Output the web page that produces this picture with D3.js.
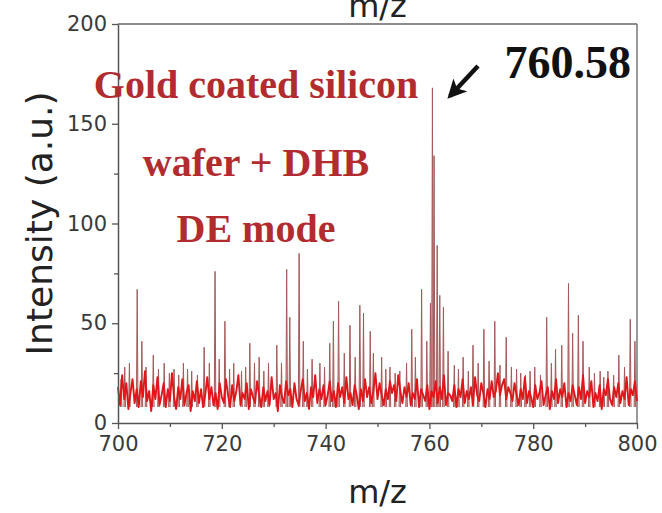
<!DOCTYPE html>
<html>
<head>
<meta charset="utf-8">
<script src="https://cdn.jsdelivr.net/npm/d3@7/dist/d3.min.js"></script>
<style>
  html, body { margin: 0; padding: 0; background: #fff; }
  svg { display: block; }
</style>
</head>
<body>
<svg id="chart" width="662" height="513"></svg>
<script>
// m/z axis ticks and intensity ticks
const xMajorTicks = [700, 720, 740, 760, 780, 800];
const xMinorTicks = [710, 730, 750, 770, 790];
const yMajorTicks = [0, 50, 100, 150, 200];
const yMinorTicks = [25, 75, 125, 175];

// baseline noise of the spectrum, sampled every 0.4 m/z from 700
const noiseStart = 700;
const noiseStep = 0.4;
const noiseIntensity = [
  18, 9, 24, 12, 20, 7, 15, 22, 10, 17,
  8, 21, 13, 26, 11, 16, 6, 19, 12, 23,
  9, 14, 20, 8, 17, 11, 25, 13, 7, 18,
  12, 22, 9, 15, 19, 6, 16, 11, 21, 10,
  17, 8, 14, 23, 12, 18, 9, 15, 7, 20,
  13, 10, 22, 14, 8, 19, 11, 16, 24, 9,
  15, 12, 20, 7, 17, 13, 10, 21, 14, 8,
  18, 11, 16, 9, 23, 12, 15, 6, 19, 13,
  10, 21, 14, 17, 8, 20, 12, 9, 16, 22,
  11, 15, 7, 18, 13, 24, 10, 17, 12, 19,
  9, 14, 21, 11, 16, 8, 20, 13, 18, 10,
  23, 12, 15, 9, 19, 14, 7, 17, 11, 22,
  13, 18, 10, 16, 25, 12, 20, 14, 9, 17,
  12, 21, 15, 19, 11, 24, 16, 10, 18, 13,
  20, 9, 15, 12, 22, 8, 17, 14, 11, 19,
  7, 16, 13, 21, 10, 18, 12, 24, 9, 15,
  14, 11, 19, 8, 17, 13, 22, 10, 16, 12,
  18, 9, 23, 14, 11, 20, 15, 8, 17, 12,
  21, 13, 16, 25, 14, 19, 22, 12, 18, 15,
  11, 20, 14, 9, 17, 12, 23, 10, 16, 13,
  8, 19, 12, 15, 21, 9, 14, 18, 7, 16,
  12, 22, 10, 17, 13, 20, 8, 15, 11, 19,
  14, 9, 18, 12, 24, 10, 16, 13, 21, 8,
  15, 11, 19, 7, 17, 14, 22, 12, 9, 18,
  13, 20, 10, 16, 12, 23, 9, 17, 14, 21,
  11
];

// resolved peaks: position and height
const peakMz = [
  700.6, 701.3, 702.2, 703.7, 704.6, 705.4, 706.8, 707.8, 708.9, 709.9,
  710.8, 711.7, 712.6, 713.4, 714.2, 715.3, 716.6, 717.6, 718.7, 719.5,
  720.6, 721.5, 722.3, 723.8, 724.6, 725.4, 726.3, 727.2, 728.1, 729.0,
  730.6, 731.5, 732.5, 733.1, 734.9, 735.7, 736.5, 737.4, 738.9, 739.8,
  740.8, 741.5, 742.5, 743.6, 744.7, 745.7, 746.6, 747.3, 748.6, 749.2,
  750.8, 751.6, 752.4, 753.4, 754.3, 755.6, 756.6, 757.3, 758.5, 759.5,
  760.2, 760.58, 760.9, 761.5, 762.0, 762.7, 763.6, 764.8, 765.6, 766.5,
  767.5, 768.4, 769.4, 770.5, 771.5, 772.6, 773.6, 774.8, 775.8, 776.8,
  777.6, 778.5, 779.4, 780.3, 781.4, 782.6, 783.5, 784.3, 785.5, 786.8,
  787.6, 788.7, 789.6, 790.8, 791.8, 792.9, 793.6, 794.4, 795.5, 796.5,
  797.6, 798.7, 799.6
];
const peakIntensity = [
  22, 28, 30, 67, 41, 28, 34, 27, 30, 25,
  27, 24, 30, 27, 26, 24, 38, 30, 76, 32,
  51, 27, 30, 26, 28, 40, 30, 33, 26, 30,
  39, 30, 77, 53, 85, 41, 27, 32, 30, 28,
  40, 51, 61, 35, 49, 33, 59, 55, 46, 35,
  33, 27, 28, 25, 26, 30, 47, 33, 67, 41,
  60, 168, 134, 89, 64, 58, 36, 29, 27, 33,
  26, 39, 30, 47, 31, 51, 29, 43, 28, 27,
  25, 24, 26, 28, 24, 53, 30, 37, 39, 70,
  45, 54, 41, 28, 25, 26, 23, 26, 24, 34,
  28, 52, 41
];

const labelLines = ["Gold coated silicon", "wafer + DHB", "DE mode"];
const peakLabel = "760.58";

const svg = d3.select("#chart");
const x = d3.scaleLinear().domain([700, 800]).range([118, 637]);
const y = d3.scaleLinear().domain([0, 200]).range([423, 24]);

const axisColor = "#555";
const tickFont = "'DejaVu Sans', sans-serif";

// plot frame (top and right)
svg.append("line").attr("x1", x(700)).attr("x2", x(800)).attr("y1", y(200)).attr("y2", y(200))
  .attr("stroke", "#666").attr("stroke-width", 1.5);
svg.append("line").attr("x1", x(800)).attr("x2", x(800)).attr("y1", y(200)).attr("y2", y(0))
  .attr("stroke", "#777").attr("stroke-width", 1.5);

// spectrum peaks
const spike = d3.line().x(d => x(d[0])).y(d => y(d[1]));
const peaks = peakMz.map((m, i) => ({ mz: m, v: peakIntensity[i] }));
svg.append("g").selectAll("path").data(peaks).join("path")
  .attr("d", d => spike([[d.mz - 0.15, 8], [d.mz, d.v], [d.mz + 0.15, 8]]))
  .attr("fill", "#f0b0b0")
  .attr("stroke", "#a35a5a")
  .attr("stroke-width", 1)
  .attr("stroke-linejoin", "miter");

// baseline noise
const noise = noiseIntensity.map((v, i) => [noiseStart + i * noiseStep, v]);
svg.append("path")
  .attr("d", d3.line().x(d => x(d[0])).y(d => y(d[1]))(noise))
  .attr("fill", "none")
  .attr("stroke", "#e0161a")
  .attr("stroke-width", 1.9)
  .attr("stroke-linejoin", "round");

// axes
svg.append("g").attr("transform", `translate(0,${y(0)})`)
  .call(d3.axisBottom(x).tickValues(xMajorTicks).tickSize(6).tickPadding(7).tickSizeOuter(0));
svg.append("g").attr("transform", `translate(0,${y(0)})`)
  .call(d3.axisBottom(x).tickValues(xMinorTicks).tickSize(4).tickFormat("").tickSizeOuter(0))
  .call(g => g.select(".domain").remove());
svg.append("g").attr("transform", `translate(${x(700)},0)`)
  .call(d3.axisLeft(y).tickValues(yMajorTicks).tickSize(6).tickPadding(5).tickSizeOuter(0));
svg.append("g").attr("transform", `translate(${x(700)},0)`)
  .call(d3.axisLeft(y).tickValues(yMinorTicks).tickSize(4).tickFormat("").tickSizeOuter(0))
  .call(g => g.select(".domain").remove());

svg.selectAll(".domain").attr("stroke", axisColor).attr("stroke-width", 1.5);
svg.selectAll(".tick line").attr("stroke", axisColor).attr("stroke-width", 1.3);
svg.selectAll(".tick text")
  .attr("font-family", tickFont).attr("font-size", 21).attr("fill", "#3a3a3a");

// axis titles
svg.append("text").attr("x", (x(700) + x(800)) / 2).attr("y", 503)
  .attr("text-anchor", "middle").attr("font-family", tickFont).attr("font-size", 32)
  .attr("fill", "#222").text("m/z");
svg.append("text").attr("x", (x(700) + x(800)) / 2).attr("y", 17)
  .attr("text-anchor", "middle").attr("font-family", tickFont).attr("font-size", 32)
  .attr("fill", "#222").text("m/z");
svg.append("text")
  .attr("transform", `translate(52,${(y(0) + y(200)) / 2}) rotate(-90)`)
  .attr("text-anchor", "middle").attr("font-family", tickFont).attr("font-size", 36)
  .attr("fill", "#222").text("Intensity (a.u.)");

// sample description
const serif = "'Liberation Serif', 'Times New Roman', serif";
const labelBaselines = [98, 176, 242];
svg.append("g").selectAll("text").data(labelLines).join("text")
  .attr("x", 256).attr("y", (d, i) => labelBaselines[i])
  .attr("text-anchor", "middle")
  .attr("font-family", serif).attr("font-weight", "bold").attr("font-size", 40)
  .attr("fill", "#b22b2e").text(d => d);

// peak annotation with arrow
svg.append("text").attr("x", 631).attr("y", 78).attr("text-anchor", "end")
  .attr("font-family", serif).attr("font-weight", "bold").attr("font-size", 46)
  .attr("fill", "#111").text(peakLabel);

const defs = svg.append("defs");
defs.append("marker").attr("id", "arrowHead")
  .attr("viewBox", "0 0 10 10").attr("refX", 8).attr("refY", 5)
  .attr("markerWidth", 4.2).attr("markerHeight", 4.2).attr("orient", "auto")
  .append("path").attr("d", "M0,0 L10,5 L0,10 L2.5,5 Z").attr("fill", "#111");
svg.append("line")
  .attr("x1", 478).attr("y1", 66).attr("x2", 450).attr("y2", 96)
  .attr("stroke", "#111").attr("stroke-width", 4.5)
  .attr("marker-end", "url(#arrowHead)");
</script>
</body>
</html>
